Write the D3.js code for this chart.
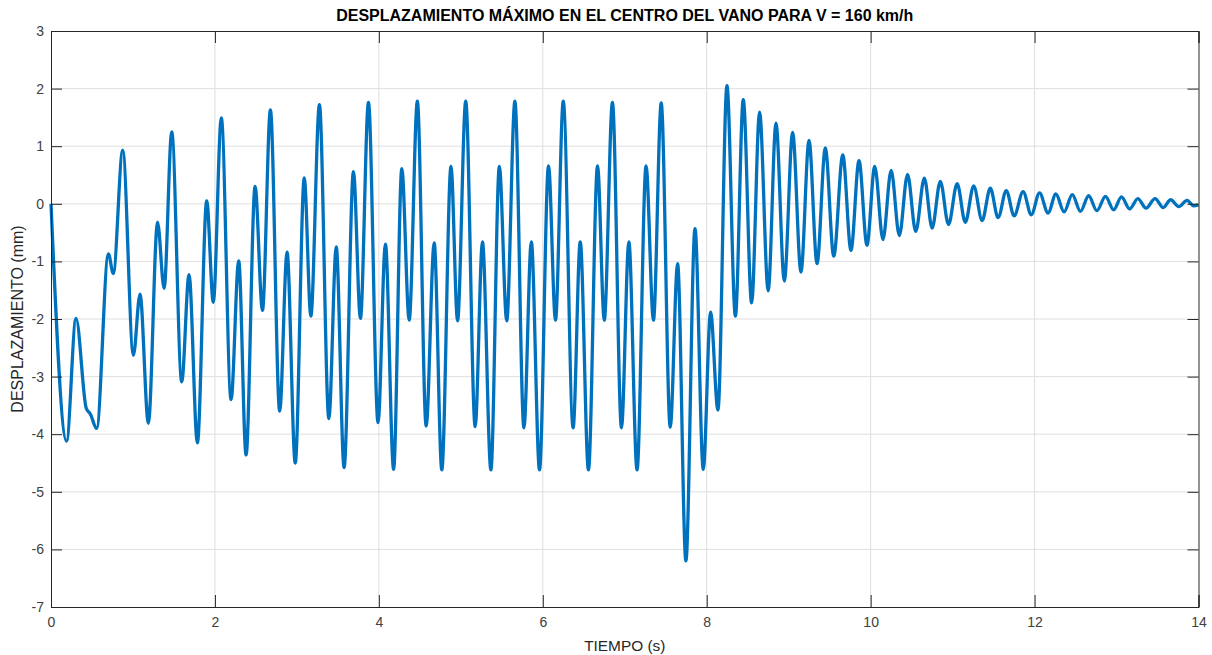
<!DOCTYPE html>
<html>
<head>
<meta charset="utf-8">
<script src="https://cdn.jsdelivr.net/npm/d3@7"></script>
<style>
  body { margin: 0; background: #fff; }
  text { font-family: "Liberation Sans", Arial, Helvetica, sans-serif; }
</style>
</head>
<body>
<div id="chart"></div>
<script>
// Extrema of the displacement trace (time in s, displacement in mm).
var tiempo = [
  0.00, 0.19, 0.305, 0.43, 0.48, 0.557, 0.70, 0.76, 0.875, 1.005,
  1.086, 1.188, 1.30, 1.38, 1.473, 1.595, 1.684, 1.786, 1.90, 1.98,
  2.078, 2.197, 2.29, 2.38, 2.49, 2.58, 2.677, 2.79, 2.88, 2.98,
  3.09, 3.17, 3.275, 3.39, 3.48, 3.576, 3.69, 3.775, 3.873, 3.99,
  4.08, 4.18, 4.28, 4.37, 4.47, 4.577, 4.675, 4.768, 4.88, 4.96,
  5.06, 5.175, 5.264, 5.367, 5.47, 5.56, 5.66, 5.77, 5.86, 5.96,
  6.07, 6.155, 6.25, 6.37, 6.457, 6.557, 6.668, 6.75, 6.85, 6.96,
  7.05, 7.15, 7.26, 7.35, 7.445, 7.555, 7.645, 7.746, 7.857, 7.958,
  8.047, 8.137, 8.247, 8.35, 8.446, 8.548, 8.645, 8.75, 8.845, 8.947,
  9.048, 9.15, 9.248, 9.346, 9.447, 9.55, 9.66, 9.76, 9.858, 9.955,
  10.05, 10.15, 10.25, 10.35, 10.45, 10.55, 10.655, 10.75, 10.85, 10.95,
  11.055, 11.155, 11.257, 11.36, 11.46, 11.555, 11.655, 11.75, 11.86, 11.96,
  12.06, 12.165, 12.26, 12.36, 12.46, 12.56, 12.66, 12.76, 12.865, 12.965,
  13.06, 13.16, 13.26, 13.36, 13.47, 13.57, 13.66, 13.76, 13.86, 13.94,
  14.0
];
var desplazamiento = [
  0.00, -4.12, -1.99, -3.55, -3.65, -3.90, -0.87, -1.21, 0.93, -2.63,
  -1.57, -3.81, -0.32, -1.47, 1.25, -3.09, -1.23, -4.15, 0.05, -1.71,
  1.49, -3.40, -0.99, -4.36, 0.30, -1.85, 1.63, -3.60, -0.84, -4.50,
  0.45, -1.95, 1.72, -3.73, -0.75, -4.58, 0.56, -1.99, 1.76, -3.80,
  -0.70, -4.61, 0.61, -2.02, 1.78, -3.86, -0.68, -4.62, 0.65, -2.03,
  1.78, -3.87, -0.66, -4.62, 0.65, -2.03, 1.78, -3.89, -0.66, -4.62,
  0.66, -2.02, 1.78, -3.89, -0.66, -4.62, 0.66, -2.02, 1.76, -3.89,
  -0.66, -4.62, 0.66, -2.02, 1.75, -3.88, -1.04, -6.20, -0.43, -4.61,
  -1.88, -3.58, 2.05, -1.95, 1.81, -1.72, 1.59, -1.51, 1.40, -1.34,
  1.24, -1.185, 1.10, -1.04, 0.97, -0.91, 0.85, -0.81, 0.75, -0.72,
  0.65, -0.62, 0.58, -0.55, 0.51, -0.48, 0.445, -0.42, 0.39, -0.36,
  0.35, -0.32, 0.31, -0.29, 0.27, -0.24, 0.23, -0.21, 0.21, -0.19,
  0.19, -0.16, 0.17, -0.14, 0.16, -0.13, 0.14, -0.12, 0.13, -0.105,
  0.12, -0.09, 0.09, -0.075, 0.09, -0.065, 0.07, -0.05, 0.06, -0.035,
  -0.02
];
var xTicks = [0, 2, 4, 6, 8, 10, 12, 14];
var yTicks = [-7, -6, -5, -4, -3, -2, -1, 0, 1, 2, 3];

var titulo = "DESPLAZAMIENTO MÁXIMO EN EL CENTRO DEL VANO PARA V = 160 km/h";
var etiquetaX = "TIEMPO (s)";
var etiquetaY = "DESPLAZAMIENTO (mm)";

var width = 1212, height = 655;
var m = { top: 31, right: 13.5, bottom: 48, left: 51 };
var w = width - m.left - m.right, h = height - m.top - m.bottom;

var svg = d3.select("#chart").append("svg")
  .attr("width", width)
  .attr("height", height);

var g = svg.append("g")
  .attr("transform", "translate(" + m.left + "," + m.top + ")");

var x = d3.scaleLinear().domain([0, 14]).range([0, w]);
var y = d3.scaleLinear().domain([-7, 3]).range([h, 0]);

// grid
g.append("g").selectAll("line")
  .data(xTicks.slice(1, -1))
  .enter().append("line")
  .attr("x1", function (d) { return x(d); })
  .attr("x2", function (d) { return x(d); })
  .attr("y1", 0).attr("y2", h)
  .attr("stroke", "#dfdfdf").attr("stroke-width", 1);

g.append("g").selectAll("line")
  .data(yTicks.slice(1, -1))
  .enter().append("line")
  .attr("y1", function (d) { return y(d); })
  .attr("y2", function (d) { return y(d); })
  .attr("x1", 0).attr("x2", w)
  .attr("stroke", "#dfdfdf").attr("stroke-width", 1);

// data line
var pts = tiempo.map(function (t, i) { return [t, desplazamiento[i]]; });
var line = d3.line()
  .x(function (d) { return x(d[0]); })
  .y(function (d) { return y(d[1]); })
  .curve(d3.curveMonotoneX);

g.append("path")
  .datum(pts)
  .attr("fill", "none")
  .attr("stroke", "#0072BD")
  .attr("stroke-width", 3.3)
  .attr("stroke-linejoin", "round")
  .attr("d", line);

// axes, box style with ticks inside on all four sides
var axisColor = "#262626";
function styleAxis(sel) {
  sel.select(".domain").attr("stroke", axisColor);
  sel.selectAll(".tick line").attr("stroke", axisColor);
  sel.selectAll("text").attr("fill", "#404040")
    .style("font-size", "14px")
    .style("font-family", "'Liberation Sans', Arial, sans-serif");
}

var xb = g.append("g").attr("transform", "translate(0," + h + ")")
  .call(d3.axisBottom(x).tickValues(xTicks).tickSize(-12).tickPadding(7)
    .tickFormat(d3.format("d")));
styleAxis(xb);
xb.selectAll("text").attr("dy", "0.9em");

var xt = g.append("g")
  .call(d3.axisTop(x).tickValues(xTicks).tickSize(-12).tickFormat(""));
styleAxis(xt);

var yl = g.append("g")
  .call(d3.axisLeft(y).tickValues(yTicks).tickSize(-11).tickPadding(7)
    .tickFormat(d3.format("d")));
styleAxis(yl);
yl.selectAll(".tick text").text(function (d) { return d < 0 ? "-" + Math.abs(d) : d; });

var yr = g.append("g").attr("transform", "translate(" + w + ",0)")
  .call(d3.axisRight(y).tickValues(yTicks).tickSize(-11).tickFormat(""));
styleAxis(yr);

// title and labels
svg.append("text")
  .attr("x", m.left + w / 2)
  .attr("y", 21)
  .attr("text-anchor", "middle")
  .attr("fill", "#000")
  .style("font-size", "16px")
  .style("font-weight", "bold")
  .text(titulo);

svg.append("text")
  .attr("x", m.left + w / 2)
  .attr("y", 651)
  .attr("text-anchor", "middle")
  .attr("fill", "#262626")
  .style("font-size", "15.4px")
  .text(etiquetaX);

svg.append("text")
  .attr("transform", "translate(23," + (m.top + h / 2) + ") rotate(-90)")
  .attr("text-anchor", "middle")
  .attr("fill", "#262626")
  .style("font-size", "16px")
  .text(etiquetaY);
</script>
</body>
</html>
